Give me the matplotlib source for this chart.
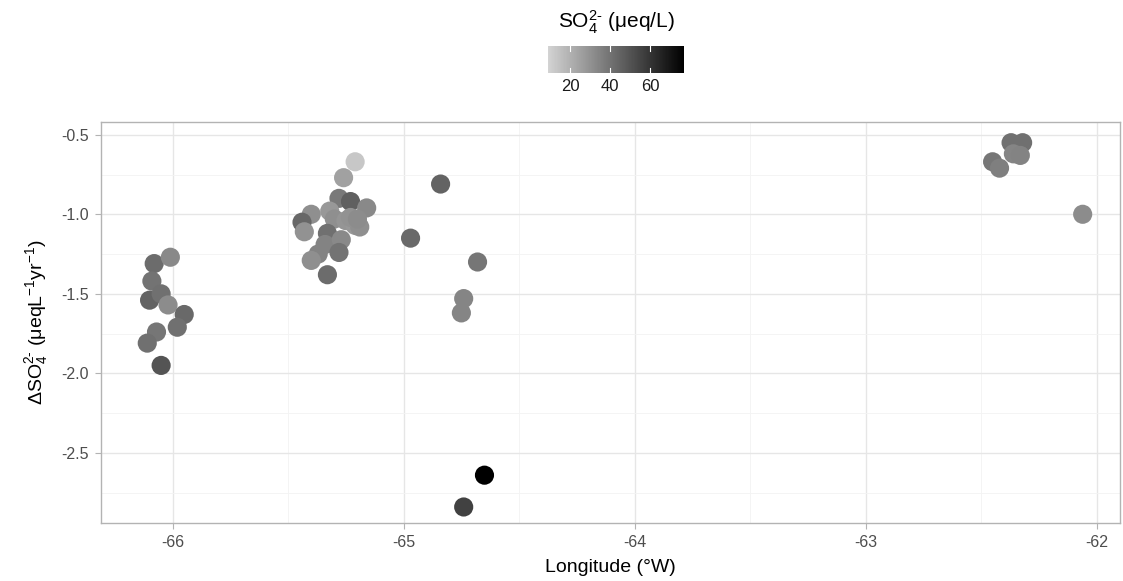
import matplotlib
matplotlib.use("Agg")
import matplotlib.pyplot as plt
from matplotlib.colors import LinearSegmentedColormap, Normalize
from matplotlib.ticker import MultipleLocator

plt.rcParams['font.family'] = ['Liberation Sans', 'DejaVu Sans']
plt.rcParams['mathtext.default'] = 'regular'

# longitude (°W), change in sulphate, sulphate concentration
lon = [-66.08, -66.01, -66.09, -66.10, -66.05, -66.02, -65.95, -65.98, -66.07, -66.11, -66.05,
       -65.21, -65.26, -65.28, -65.23, -65.16, -65.40, -65.44, -65.43, -65.32, -65.30,
       -65.25, -65.21, -65.19, -65.33, -65.34, -65.37, -65.27, -65.40, -65.28, -65.33,
       -65.23, -65.20,
       -64.84, -64.97, -64.68, -64.74, -64.75, -64.65, -64.74,
       -62.45, -62.42, -62.37, -62.32, -62.36, -62.33, -62.06]
dso4 = [-1.31, -1.27, -1.42, -1.54, -1.50, -1.57, -1.63, -1.71, -1.74, -1.81, -1.95,
        -0.67, -0.77, -0.90, -0.92, -0.96, -1.00, -1.05, -1.11, -0.98, -1.03,
        -1.04, -1.07, -1.08, -1.12, -1.19, -1.25, -1.16, -1.29, -1.24, -1.38,
        -1.02, -1.03,
        -0.81, -1.15, -1.30, -1.53, -1.62, -2.64, -2.84,
        -0.67, -0.71, -0.55, -0.55, -0.62, -0.63, -1.00]
so4 = [42, 33, 40, 45, 41, 32, 43, 41, 39, 41, 50,
       13, 25, 38, 46, 33, 31, 44, 30, 28, 31,
       29, 28, 31, 41, 35, 35, 33, 31, 40, 42,
       30, 32,
       45, 43, 39, 34, 34, 77, 56,
       39, 36, 41, 41, 34, 35, 32]

cmap = LinearSegmentedColormap.from_list('greys', ['#d3d3d3', '#000000'])
norm = Normalize(vmin=9, vmax=77)

fig = plt.figure(figsize=(11.23, 5.81), dpi=100)
ax = fig.add_axes([0.09, 0.1, 0.907, 0.69])

ax.scatter(lon, dso4, c=so4, cmap=cmap, norm=norm, s=190, edgecolors='none', zorder=3)

ax.set_xlim(-66.31, -61.9)
ax.set_ylim(-2.94, -0.42)
ax.xaxis.set_minor_locator(MultipleLocator(0.5))
ax.yaxis.set_minor_locator(MultipleLocator(0.25))
ax.set_yticks([-2.5, -2.0, -1.5, -1.0, -0.5])
ax.set_yticklabels(['-2.5', '-2.0', '-1.5', '-1.0', '-0.5'])
ax.set_xticks([-66, -65, -64, -63, -62])
ax.set_xticklabels(['-66', '-65', '-64', '-63', '-62'])

ax.grid(which='major', color='#e6e6e6', linewidth=1.0, zorder=0)
ax.grid(which='minor', color='#f3f3f3', linewidth=0.6, zorder=0)
ax.set_axisbelow(True)
for sp in ax.spines.values():
    sp.set_color('#b3b3b3')
    sp.set_linewidth(1.0)
ax.tick_params(which='major', length=4, color='#b3b3b3', labelcolor='#4d4d4d',
               labelsize=11.5, pad=5)
ax.tick_params(which='minor', length=0)

ax.set_xlabel('Longitude (°W)', fontsize=14, labelpad=6)
ax.set_ylabel('ΔSO$_4^{2\u2010}$ (μeqL$^{-1}$yr$^{-1}$)', fontsize=14, labelpad=8)

# colour bar legend
cax = fig.add_axes([548 / 1123, 1 - 73 / 581, 136 / 1123, 27 / 581])
sm = plt.cm.ScalarMappable(cmap=cmap, norm=norm)
cb = fig.colorbar(sm, cax=cax, orientation='horizontal')
cb.outline.set_visible(False)
cb.set_ticks([20, 40, 60])
cb.ax.tick_params(length=0, labelsize=12, labelcolor='#1a1a1a', pad=4)
for v in [20, 40, 60]:
    cax.plot([v, v], [0, 0.2], color='white', lw=0.8)
    cax.plot([v, v], [0.8, 1], color='white', lw=0.8)
fig.text(616 / 1123, 1 - 22 / 581, 'SO$_4^{2\u2010}$ (μeq/L)', ha='center', va='center',
         fontsize=15)

fig.savefig('out.png', dpi=100)
